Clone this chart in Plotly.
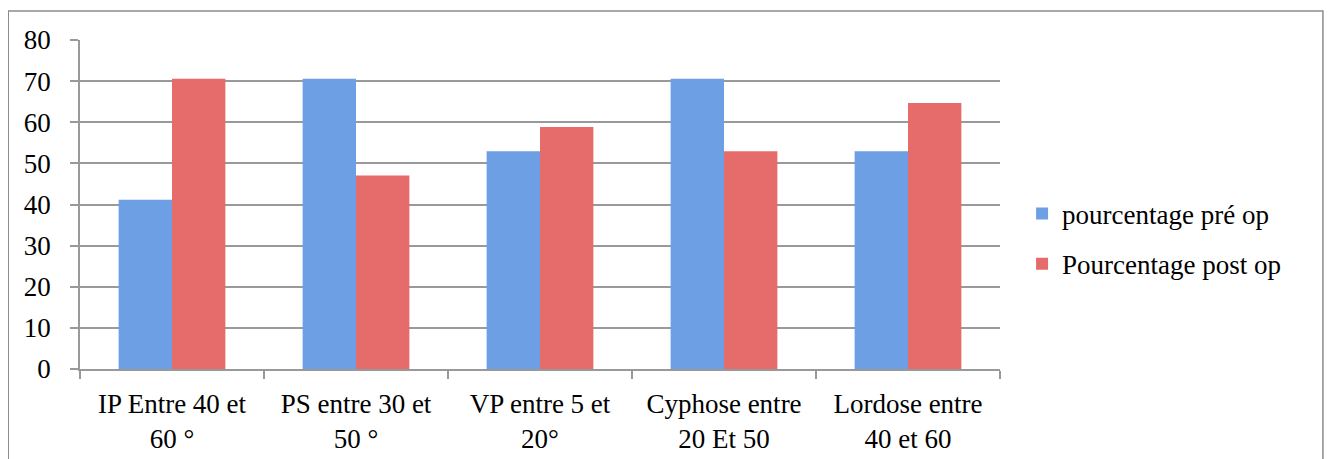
import plotly.graph_objects as go

# Categories and percentages
categories = [
    "IP Entre 40 et<br>60 °",
    "PS entre 30 et<br>50 °",
    "VP entre 5 et<br>20°",
    "Cyphose entre<br>20 Et 50",
    "Lordose entre<br>40 et 60",
]
pre_op = [41.18, 70.59, 52.94, 70.59, 52.94]
post_op = [70.59, 47.06, 58.82, 52.94, 64.71]

font_family = "Liberation Serif, DejaVu Serif, serif"

fig = go.Figure()
fig.add_trace(go.Bar(
    x=categories, y=pre_op, name="pourcentage pré op",
    marker=dict(color="#6d9fe4", line=dict(width=0)),
    legendgroup="a",
))
fig.add_trace(go.Bar(
    x=categories, y=post_op, name="Pourcentage post op",
    marker=dict(color="#e66b6b", line=dict(width=0)),
    legendgroup="b",
))

# page body has an 8px margin, so the figure is a bit smaller than the window
fig.update_layout(
    width=1325, height=451,
    margin=dict(l=72, r=333, t=32, b=90),
    plot_bgcolor="white", paper_bgcolor="white",
    font=dict(family=font_family, size=27, color="black"),
    barmode="group", bargap=0.42, bargroupgap=0,
    showlegend=True,
    legend=dict(
        x=1.024, y=0.395, xanchor="left", yanchor="middle",
        font=dict(size=27), tracegroupgap=12,
        bgcolor="rgba(0,0,0,0)",
    ),
    xaxis=dict(
        showline=True, linecolor="#999999", linewidth=1.5,
        ticks="outside", tickson="boundaries", ticklen=8,
        tickcolor="#999999", tickwidth=1.5,
        showgrid=False, ticklabelstandoff=10, automargin=False,
    ),
    yaxis=dict(
        range=[0, 80], dtick=10,
        showline=True, linecolor="#999999", linewidth=1.5,
        ticks="outside", ticklen=8, tickcolor="#999999", tickwidth=1.5,
        showgrid=True, gridcolor="#999999", gridwidth=1.5,
        zeroline=False, ticklabelstandoff=14, automargin=False,
    ),
    shapes=[dict(
        type="rect", xref="paper", yref="paper",
        x0=-0.078, x1=1.351, y0=-0.32, y1=1.088,
        line=dict(color="#8c8c8c", width=1.5), fillcolor="rgba(0,0,0,0)",
        layer="below",
    )],
)

fig.write_html("out.html")
